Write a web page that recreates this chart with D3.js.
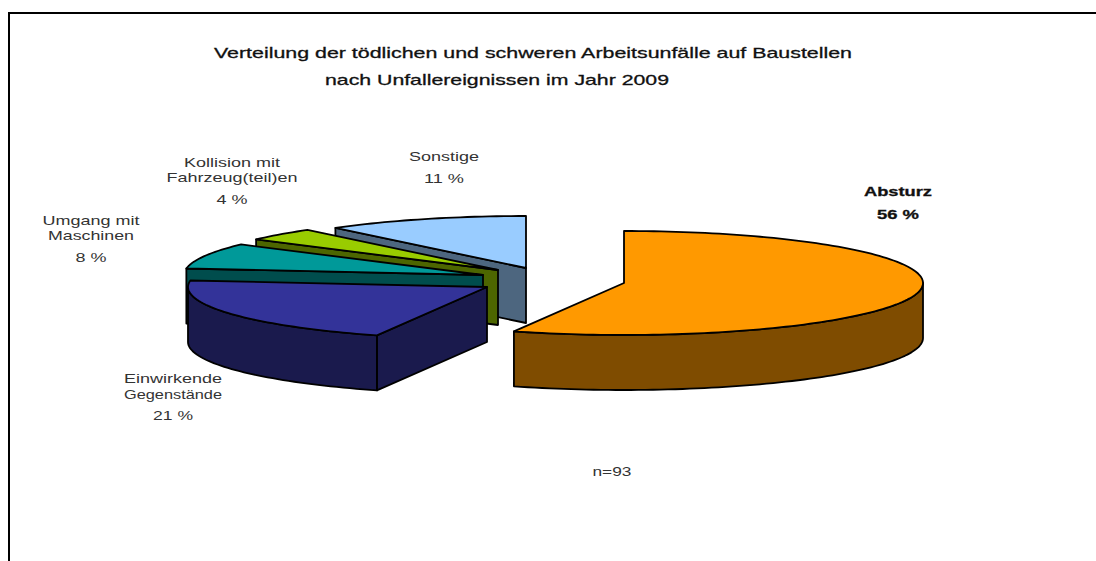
<!DOCTYPE html>
<html>
<head>
<meta charset="utf-8">
<script src="https://cdn.jsdelivr.net/npm/d3@7"></script>
<style>
  html, body { margin: 0; padding: 0; background: #fff; }
  text { font-family: "Liberation Sans", Arial, sans-serif; fill: #333; }
  .dark text, text.dark { fill: #111; stroke: #111; stroke-width: 0.3; }
</style>
</head>
<body>
<svg id="chart" width="1096" height="561"></svg>
<script>
const categories = ['Absturz', 'Einwirkende Gegenstände', 'Umgang mit Maschinen', 'Kollision mit Fahrzeug(teil)en', 'Sonstige'];
const values = [56, 21, 8, 4, 11];
const titleLines = ['Verteilung der tödlichen und schweren Arbeitsunfälle auf Baustellen', 'nach Unfallereignissen im Jahr 2009'];
const sampleNote = 'n=93';

// layout, one entry per slice
const centers = [[624, 283], [487, 287], [483, 275], [498, 270], [526, 268]];
const topColors = ['#ff9900', '#333399', '#009999', '#99cc00', '#99ccff'];
const sideColors = ['#7f4c00', '#1a1a4d', '#004d4d', '#4d6600', '#4d667f'];
const labels = [
  { lines: ['Absturz', '56 %'], x: 898, ys: [196, 219], bold: true, widths: [68, 42] },
  { lines: ['Einwirkende', 'Gegenstände', '21 %'], x: 173, ys: [383, 399, 420], widths: [98, 98, 40] },
  { lines: ['Umgang mit', 'Maschinen', '8 %'], x: 91, ys: [225, 240, 262], widths: [97, 86, 31] },
  { lines: ['Kollision mit', 'Fahrzeug(teil)en', '4 %'], x: 232, ys: [167, 182, 204], widths: [96, 131, 31] },
  { lines: ['Sonstige', '11 %'], x: 444, ys: [161, 183], widths: [70, 40] }
];

const rx = 299, ry = 52, depth = 55;
const svg = d3.select('#chart');

// page frame
svg.append('path')
  .attr('d', 'M1096,13H9V561')
  .attr('fill', 'none').attr('stroke', '#000').attr('stroke-width', 2);

const title = svg.append('g').attr('class', 'dark').attr('font-size', 15);
title.append('text').attr('x', 533).attr('y', 58).attr('text-anchor', 'middle')
  .attr('textLength', 638).attr('lengthAdjust', 'spacingAndGlyphs').text(titleLines[0]);
title.append('text').attr('x', 497).attr('y', 85).attr('text-anchor', 'middle')
  .attr('textLength', 344).attr('lengthAdjust', 'spacingAndGlyphs').text(titleLines[1]);

const pie = d3.pie().sort(null).value(d => d)(values);
const line = d3.line();
const project = (c, a, drop = 0) => [c[0] + rx * Math.sin(a), c[1] - ry * Math.cos(a) + drop];
const arcPts = (c, a0, a1, drop = 0) => {
  const n = Math.max(2, Math.ceil((a1 - a0) * 40));
  return d3.range(n + 1).map(i => project(c, a0 + (a1 - a0) * i / n, drop));
};

// back slices first so the front ones overlap them
d3.range(pie.length).reverse().forEach(i => {
  const s = pie[i], c = centers[i];
  const g = svg.append('g').attr('stroke', '#000').attr('stroke-width', 1.8).attr('stroke-linejoin', 'round');

  // cut face on the start edge
  const edge = project(c, s.startAngle);
  if (i > 0) {
    g.append('path').attr('fill', sideColors[i]).attr('d', line([
      c, edge, [edge[0], edge[1] + depth], [c[0], c[1] + depth]
    ]) + 'Z');
  }

  // outer rim, only the part facing the viewer
  const a0 = Math.max(s.startAngle, Math.PI / 2);
  const a1 = Math.min(s.endAngle, Math.PI * 1.5);
  if (a1 > a0) {
    g.append('path').attr('fill', sideColors[i]).attr('d', line([
      ...arcPts(c, a0, a1), ...arcPts(c, a0, a1, depth).reverse()
    ]) + 'Z');
  }

  // top
  g.append('path').attr('fill', topColors[i]).attr('d', line([
    c, ...arcPts(c, s.startAngle, s.endAngle)
  ]) + 'Z');
});

labels.forEach(l => {
  const g = svg.append('g').attr('font-size', 13).attr('font-weight', l.bold ? 700 : 400);
  if (l.bold) g.attr('class', 'dark');
  l.lines.forEach((t, j) => {
    g.append('text').attr('x', l.x).attr('y', l.ys[j]).attr('text-anchor', 'middle')
      .attr('textLength', l.widths[j]).attr('lengthAdjust', 'spacingAndGlyphs').text(t);
  });
});

svg.append('text').attr('x', 612).attr('y', 476).attr('text-anchor', 'middle')
  .attr('font-size', 13).attr('textLength', 39).attr('lengthAdjust', 'spacingAndGlyphs').text(sampleNote);
</script>
</body>
</html>
